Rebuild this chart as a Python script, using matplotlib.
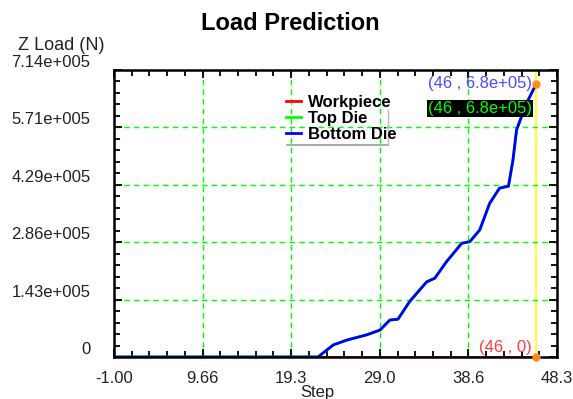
import numpy as np
import matplotlib
matplotlib.use("Agg")
import matplotlib.pyplot as plt
import matplotlib.transforms as mtransforms
from matplotlib.lines import Line2D

plt.rcParams['font.family'] = ['Liberation Sans', 'DejaVu Sans']

# data
step_bottom = [-1.0, 21.7, 23.4, 24.9, 27.1, 28.6, 29.7, 30.6, 31.9, 33.8, 34.7,
               36.0, 37.7, 38.6, 39.7, 40.8, 41.9, 42.9, 43.4, 43.8, 44.9, 46.0]
load_bottom = [0, 0, 0.30e5, 0.42e5, 0.55e5, 0.67e5, 0.92e5, 0.94e5, 1.38e5, 1.87e5, 1.96e5,
               2.37e5, 2.83e5, 2.87e5, 3.16e5, 3.82e5, 4.20e5, 4.25e5, 4.90e5, 5.65e5, 6.31e5, 6.8e5]
step_top = step_bottom
load_top = load_bottom
step_work = [22.0, 46.0]
load_work = [0, 0]

x_ticks = np.linspace(-1.0, 48.3, 6)
x_labels = ["-1.00", "9.66", "19.3", "29.0", "38.6", "48.3"]
y_ticks = np.linspace(0, 7.14e5, 6)
y_labels = ["0", "1.43e+005", "2.86e+005", "4.29e+005", "5.71e+005", "7.14e+005"]

fig = plt.figure(figsize=(5.73, 3.99), dpi=100)
ax = fig.add_axes([114 / 573, 42 / 399, 443 / 573, 287 / 399])

ax.plot(step_top, load_top, color='#00ff00', lw=2)
ax.plot(step_bottom, load_bottom, color='#0000ff', lw=2)
ax.plot(step_work, load_work, color='#ff0000', lw=2)

ax.axvline(46, color='#ffff00', lw=1.2, zorder=1)
ax.plot([46, 46], [6.8e5, 0], 'o', color='#ff8c1a', ms=5, clip_on=False, zorder=5)

ax.text(45.5, 6.8e5, "(46 , 6.8e+05)", color='#4a4aff', fontsize=12,
        ha='right', va='center')
ax.text(45.5, 6.18e5, "(46 , 6.8e+05)", color='#00ff00', fontsize=12,
        ha='right', va='center',
        bbox=dict(facecolor='black', edgecolor='none', pad=0.8))
ax.text(45.5, 0.24e5, "(46 , 0)", color='#ff3b3b', fontsize=12,
        ha='right', va='center')

ax.set_xlim(-1.0, 48.3)
ax.set_ylim(0, 7.14e5)
ax.set_xticks(x_ticks)
ax.set_xticklabels(x_labels, fontsize=12, color='#222222')
ax.set_yticks(y_ticks)
ax.set_yticklabels(y_labels, fontsize=12, color='#222222')
ax.set_xticks(np.linspace(-1.0, 48.3, 26), minor=True)
ax.set_yticks(np.linspace(0, 7.14e5, 26), minor=True)
ax.tick_params(which='both', direction='in', top=True, right=True, width=1.3)
ax.tick_params(which='major', length=6)
ax.tick_params(which='minor', length=4)
ax.tick_params(axis='x', which='major', pad=10)
ax.tick_params(axis='y', which='major', pad=17)

# y labels sit a bit above their ticks
offset = mtransforms.ScaledTranslation(0, 9 / 100, fig.dpi_scale_trans)
for lab in ax.get_yticklabels():
    lab.set_transform(lab.get_transform() + offset)

ax.grid(True, which='major', color='#00ff00', ls=(0, (4, 3)), lw=1)
for s in ax.spines.values():
    s.set_linewidth(1.8)

fig.text(290 / 573, 1 - 23 / 399, "Load Prediction", fontsize=17, fontweight='bold',
         ha='center', va='center')
fig.text(18 / 573, 1 - 45 / 399, "Z Load (N)", fontsize=13, color='#222222',
         ha='left', va='center')
fig.text(317 / 573, 1 - 392 / 399, "Step", fontsize=12, color='#222222',
         ha='center', va='center')

handles = [Line2D([], [], color='#ff0000', lw=2),
           Line2D([], [], color='#00ff00', lw=2),
           Line2D([], [], color='#0000ff', lw=2)]
leg = fig.legend(handles, ["Workpiece", "Top Die", "Bottom Die"],
                 loc='upper left', bbox_to_anchor=(286 / 573, 1 - 95 / 399),
                 frameon=False, prop={'weight': 'bold', 'size': 12},
                 handlelength=0.9, handletextpad=0.4, labelspacing=0.05,
                 borderpad=0, borderaxespad=0)
fig.add_artist(Line2D([287 / 573, 388 / 573], [1 - 145 / 399, 1 - 145 / 399],
                      color='#999999', lw=1.2))
fig.add_artist(Line2D([388 / 573, 388 / 573], [1 - 110 / 399, 1 - 145 / 399],
                      color='#bbbbbb', lw=1))

fig.savefig("out.png", dpi=100)
